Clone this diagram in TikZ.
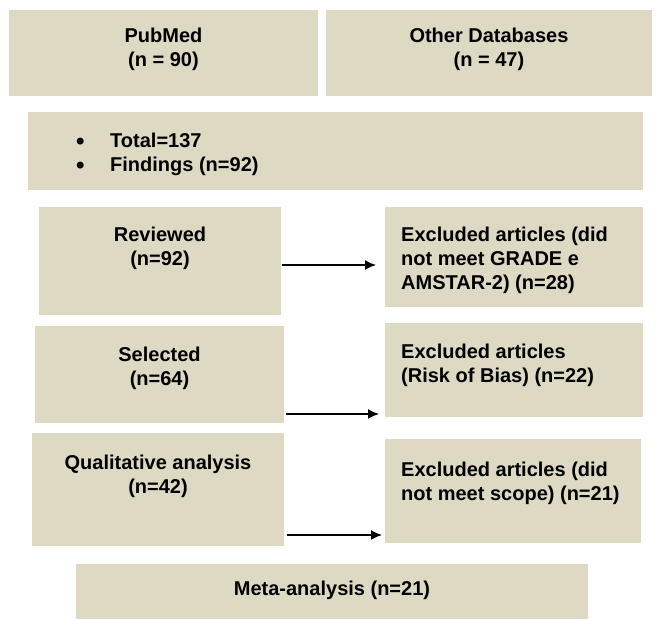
\documentclass[tikz,border=0pt]{standalone}
\usepackage{fontspec}
\setmainfont{Liberation Sans}
\usetikzlibrary{arrows.meta, positioning}
\definecolor{tan}{HTML}{DDD9C3}
\newcommand{\bul}{\makebox[34pt][l]{\smash{\fontsize{24}{24}\selectfont\raisebox{-1.5pt}{\textbullet}}}}

\begin{document}
\begin{tikzpicture}[
    x=1pt, y=1pt,
    box/.style={fill=tan, inner sep=0pt, outer sep=0pt},
    txt/.style={inner sep=0pt, font=\fontsize{20}{24}\selectfont\bfseries, align=center},
    txtl/.style={txt, align=left, anchor=north west},
    arr/.style={-{Latex[length=11pt, width=10pt]}, line width=1.4pt},
]
    \useasboundingbox (0,0) rectangle (656,619);

    % boxes
    \node[box, minimum width=309, minimum height=86] (pub) at (163.5, 566) {};
    \node[box, minimum width=326, minimum height=86] (oth) at (489, 566) {};
    \node[box, minimum width=615, minimum height=78] (tot) at (335.5, 468) {};
    \node[box, minimum width=242, minimum height=108] (rev) at (160, 358) {};
    \node[box, minimum width=258, minimum height=100] (exa) at (514, 362) {};
    \node[box, minimum width=249, minimum height=97] (sel) at (159.5, 244.5) {};
    \node[box, minimum width=258, minimum height=94] (exb) at (514, 249) {};
    \node[box, minimum width=252, minimum height=113] (qual) at (158, 129.5) {};
    \node[box, minimum width=256, minimum height=104] (exc) at (513, 128) {};
    \node[box, minimum width=512, minimum height=55] (meta) at (332, 27.5) {};

    % texts
    \node[txt, below=18 of pub.north] (pubtxt) {PubMed\\(n = 90)};
    \node[txt, below=18 of oth.north] (othtxt) {Other Databases\\(n = 47)};
    \node[txtl] (tottxt) at ([shift={(48,-21)}]tot.north west)
        {\bul Total=137\\ \bul Findings (n=92)};
    \node[txt, below=20 of rev.north] (revtxt) {Reviewed\\(n=92)};
    \node[txtl] (exatxt) at ([shift={(16,-20)}]exa.north west)
        {Excluded articles (did\\not meet GRADE e\\AMSTAR-2) (n=28)};
    \node[txt, below=21 of sel.north] (seltxt) {Selected\\(n=64)};
    \node[txtl] (exbtxt) at ([shift={(16,-21)}]exb.north west)
        {Excluded articles\\(Risk of Bias) (n=22)};
    \node[txt, below=22 of qual.north] (qualtxt) {Qualitative analysis\\(n=42)};
    \node[txtl] (exctxt) at ([shift={(16,-23)}]exc.north west)
        {Excluded articles (did\\not meet scope) (n=21)};
    \node[txt] (metatxt) at ([yshift=1]meta.center) {Meta-analysis (n=21)};

    % arrows
    \draw[arr] ([shift={(1,-4)}]rev.east) -- ([shift={(-9,-4)}]rev.east -| exa.west);
    \draw[arr] ([shift={(2,9)}]sel.south east) -- ([shift={(-6,9)}]sel.south east -| exb.west);
    \draw[arr] ([shift={(3,11)}]qual.south east) -- ([shift={(-3,11)}]qual.south east -| exc.west);
\end{tikzpicture}
\end{document}
